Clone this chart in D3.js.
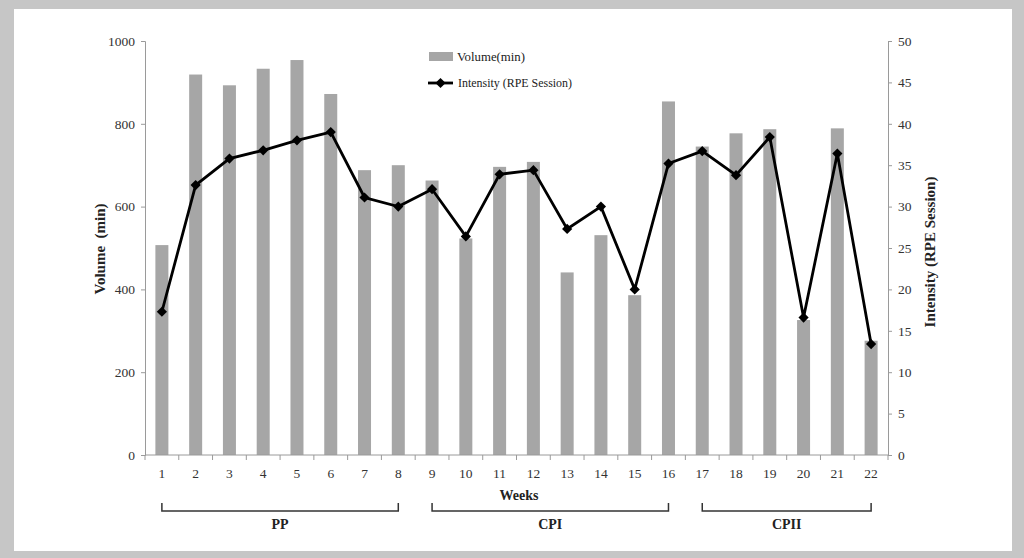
<!DOCTYPE html>
<html><head><meta charset="utf-8">
<script src="https://cdn.jsdelivr.net/npm/d3@7"></script>
<style>
html,body{margin:0;padding:0;background:#c6c6c6;}
svg{display:block;}
text{font-family:"Liberation Serif","Times New Roman",serif;}
</style></head>
<body>
<svg id="chart" width="1024" height="558"></svg>
<script>
const weeks = ["1","2","3","4","5","6","7","8","9","10","11","12","13","14","15","16","17","18","19","20","21","22"];
const volume = [507,919,893,933,954,872,688,700,663,523,696,708,441,531,386,854,745,777,787,326,789,276];
const intensity = [17.3,32.6,35.8,36.8,38.0,39.0,31.1,30.0,32.1,26.4,33.9,34.4,27.3,30.0,20.0,35.2,36.7,33.8,38.4,16.6,36.4,13.4];
const volumeTicks = [0,200,400,600,800,1000];
const intensityTicks = [0,5,10,15,20,25,30,35,40,45,50];
const phases = [
  {label:"PP", from:"1", to:"8"},
  {label:"CPI", from:"9", to:"16"},
  {label:"CPII", from:"17", to:"22"}
];

(function(){
const svg = d3.select("#chart");
svg.append("rect").attr("x",14).attr("y",9).attr("width",998).attr("height",542).attr("fill","#fff");

const pLeft = 145, pRight = 888, pTop = 41, pBottom = 455;
const xs = d3.scaleBand().domain(weeks).range([pLeft, pRight]);
const yL = d3.scaleLinear().domain([0,1000]).range([pBottom, pTop]);
const yR = d3.scaleLinear().domain([0,50]).range([pBottom, pTop]);
const cx = w => xs(w) + xs.bandwidth()/2;

// bars
svg.append("g").selectAll("rect").data(weeks).join("rect")
  .attr("x", (d) => cx(d) - 6.5)
  .attr("width", 13)
  .attr("y", (d,i) => yL(volume[i]))
  .attr("height", (d,i) => pBottom - yL(volume[i]))
  .attr("fill", "#a6a6a6");

// axes
const axisColor = "#9a9a9a";
const gL = svg.append("g").attr("transform",`translate(${pLeft},0)`)
  .call(d3.axisLeft(yL).tickValues(volumeTicks).tickFormat(d3.format("d")).tickSize(4).tickPadding(6));
const gR = svg.append("g").attr("transform",`translate(${pRight},0)`)
  .call(d3.axisRight(yR).tickValues(intensityTicks).tickFormat(d3.format("d")).tickSize(4).tickPadding(6));
const gB = svg.append("g").attr("transform",`translate(0,${pBottom})`)
  .call(d3.axisBottom(xs).tickSize(0).tickPadding(13));
// bottom ticks between categories
svg.append("g").selectAll("line").data(weeks.concat(["end"])).join("line")
  .attr("x1",(d,i)=> pLeft + i*xs.bandwidth()).attr("x2",(d,i)=> pLeft + i*xs.bandwidth())
  .attr("y1",pBottom).attr("y2",pBottom+5).attr("stroke",axisColor);
[gL,gR,gB].forEach(g=>{
  g.select(".domain").attr("stroke",axisColor);
  g.selectAll(".tick line").attr("stroke",axisColor);
  g.selectAll(".tick text").attr("fill","#333").attr("font-size",13.5)
    .attr("font-family",'"Liberation Serif","Times New Roman",serif');
});
gB.select(".domain").attr("d",`M${pLeft},0H${pRight}`);

// line
const line = d3.line().x((d,i)=>cx(weeks[i])).y(d=>yR(d));
svg.append("path").datum(intensity).attr("d",line)
  .attr("fill","none").attr("stroke","#000").attr("stroke-width",2.8).attr("stroke-linejoin","miter");
const diamond = d3.symbol().type(d3.symbolSquare).size(52);
svg.append("g").selectAll("path").data(intensity).join("path")
  .attr("transform",(d,i)=>`translate(${cx(weeks[i])},${yR(d)}) rotate(45)`)
  .attr("d", diamond).attr("fill","#000");

// axis titles
svg.append("text").attr("transform",`translate(105,249) rotate(-90)`)
  .attr("text-anchor","middle").attr("font-weight","bold").attr("font-size",15).attr("fill","#222")
  .style("white-space","pre").text("Volume  (min)");
svg.append("text").attr("transform",`translate(935,252) rotate(-90)`)
  .attr("text-anchor","middle").attr("font-weight","bold").attr("font-size",15).attr("fill","#222")
  .text("Intensity (RPE Session)");
svg.append("text").attr("x",519).attr("y",500).attr("text-anchor","middle")
  .attr("font-weight","bold").attr("font-size",14).attr("fill","#222").text("Weeks");

// phase brackets
const ph = svg.append("g");
phases.forEach(p=>{
  const x1 = cx(p.from), x2 = cx(p.to);
  ph.append("path").attr("d",`M${x1},503V511H${x2}V503`)
    .attr("fill","none").attr("stroke","#333").attr("stroke-width",1.5);
  ph.append("text").attr("x",(x1+x2)/2).attr("y",529).attr("text-anchor","middle")
    .attr("font-weight","bold").attr("font-size",14).attr("fill","#222").text(p.label);
});

// legend
const lg = svg.append("g");
lg.append("rect").attr("x",429).attr("y",52).attr("width",24).attr("height",9).attr("fill","#a6a6a6");
lg.append("text").attr("x",457).attr("y",61).attr("font-size",13.5).attr("fill","#222")
  .attr("textLength",68).attr("lengthAdjust","spacingAndGlyphs").text("Volume(min)");
lg.append("line").attr("x1",428).attr("x2",453).attr("y1",83).attr("y2",83).attr("stroke","#000").attr("stroke-width",2.8);
lg.append("path").attr("transform","translate(440.5,83) rotate(45)").attr("d",diamond).attr("fill","#000");
lg.append("text").attr("x",458).attr("y",87).attr("font-size",13.5).attr("fill","#222")
  .attr("textLength",114).attr("lengthAdjust","spacingAndGlyphs").text("Intensity (RPE Session)");
})();
</script>
</body></html>
